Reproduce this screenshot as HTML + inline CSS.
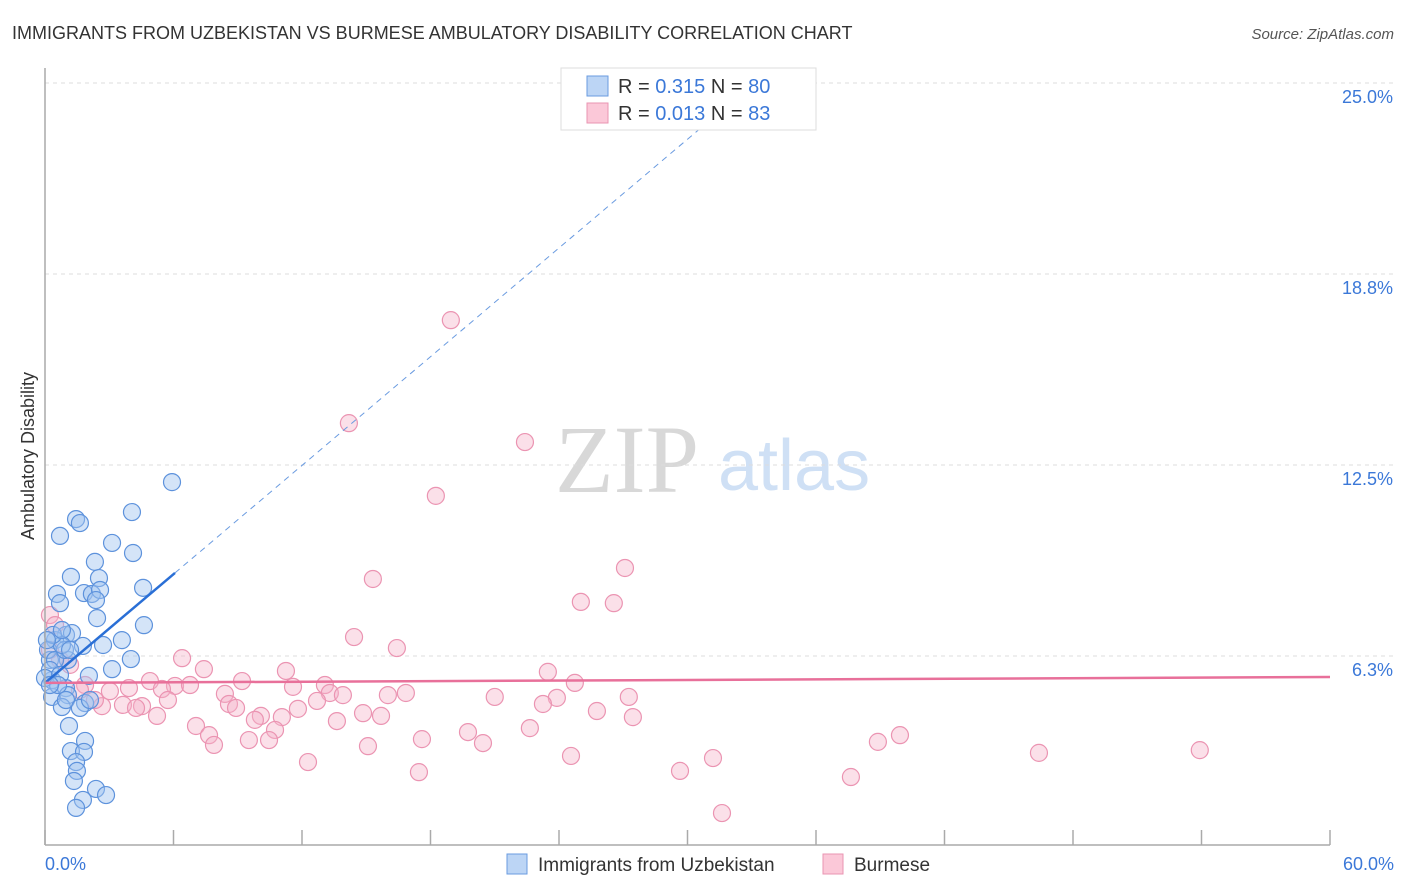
<!DOCTYPE html>
<html><head><meta charset="utf-8"><style>
body{margin:0;background:#fff;font-family:"Liberation Sans",sans-serif;}
#c{position:relative;width:1406px;height:892px;overflow:hidden}
</style></head><body>
<div id="c">
<svg id="s" width="1406" height="892">
<text x="12" y="39" font-size="18" fill="#333">IMMIGRANTS FROM UZBEKISTAN VS BURMESE AMBULATORY DISABILITY CORRELATION CHART</text>
<text x="1394" y="39" font-size="15" fill="#555" text-anchor="end" font-style="italic">Source: ZipAtlas.com</text>
<text x="555" y="492" font-size="96" fill="#d8d8d8" font-family="Liberation Serif,serif">ZIP</text>
<text x="718" y="490" font-size="72" fill="#cfe0f5">atlas</text>
<text transform="translate(34,456) rotate(-90)" font-size="18" fill="#333" text-anchor="middle">Ambulatory Disability</text>
<g id="grid"></g><g id="pts"></g><g id="lines"></g>
<line x1="45" y1="68" x2="45" y2="845" stroke="#aaa" stroke-width="1.5"/>
<line x1="45" y1="845" x2="1330" y2="845" stroke="#aaa" stroke-width="1.5"/>
<text x="45" y="870" font-size="18" fill="#3b78d8">0.0%</text>
<text x="1394" y="870" font-size="18" fill="#3b78d8" text-anchor="end">60.0%</text>
<g>
<rect x="561" y="68" width="255" height="62" fill="#fff" stroke="#ddd"/>
<rect x="587" y="76" width="21" height="20" fill="#bcd5f5" stroke="#6a9be0"/>
<rect x="587" y="103" width="21" height="20" fill="#fbc8d8" stroke="#ea94b2"/>
<text x="618" y="93" font-size="20" fill="#333">R = <tspan fill="#3b78d8">0.315</tspan>   N = <tspan fill="#3b78d8">80</tspan></text>
<text x="618" y="120" font-size="20" fill="#333">R = <tspan fill="#3b78d8">0.013</tspan>   N = <tspan fill="#3b78d8">83</tspan></text>
</g>
<g>
<rect x="507" y="854" width="20" height="20" fill="#bcd5f5" stroke="#6a9be0"/>
<text x="538" y="871" font-size="19" fill="#333">Immigrants from Uzbekistan</text>
<rect x="823" y="854" width="20" height="20" fill="#fbc8d8" stroke="#ea94b2"/>
<text x="854" y="871" font-size="19" fill="#333">Burmese</text>
</g>
</svg></div>
<script>
const yTicks=[25,18.75,12.5,6.25];
const yTickLabels=["25.0%","18.8%","12.5%","6.3%"];
const xTicks=[0,6,12,18,24,30,36,42,48,54,60];
const blueX=[5.93,1.45,1.63,4.06,0.70,3.13,4.11,2.33,1.21,2.52,4.58,0.56,1.82,2.19,2.57,2.38,0.70,4.62,2.43,3.59,2.71,1.77,0.98,1.26,0.47,4.01,3.13,2.05,1.07,0.23,0.33,0.98,0.33,1.07,1.87,0.79,1.12,1.87,1.21,1.82,1.45,1.49,1.35,2.38,2.85,1.77,1.45,0.14,0.47,0.23,0,0.7,0.61,0.23,0.93,0.79,1.17,0.37,0.09,0.79,0.98,1.63,2.1];
const blueY=[11.94,10.73,10.6,10.96,10.18,9.95,9.62,9.33,8.84,8.8,8.48,8.28,8.31,8.28,8.41,8.08,7.98,7.26,7.49,6.77,6.61,6.58,6.94,7.0,6.77,6.15,5.82,5.6,6.12,6.12,5.46,5.2,4.91,4.97,4.71,4.58,3.96,3.47,3.14,3.11,2.78,2.49,2.16,1.9,1.7,1.54,1.28,6.45,6.12,5.79,5.53,5.63,5.3,5.3,6.45,6.61,6.45,6.94,6.77,7.1,4.81,4.55,4.81];
const pinkX=[29.46,18.95,14.19,22.41,18.25,27.08,15.31,25.02,26.56,14.43,16.43,6.4,11.25,23.48,7.42,9.2,24.74,13.07,4.9,3.92,3.03,11.58,6.07,6.77,5.46,8.4,13.3,13.91,16.01,16.85,21.0,23.9,27.26,12.7,11.81,23.25,8.59,8.92,5.74,4.53,3.64,2.66,4.25,5.23,14.85,15.69,11.06,10.08,9.8,13.63,25.77,27.45,7.05,7.66,10.74,22.64,7.89,9.52,10.46,17.6,19.75,20.45,15.08,24.56,12.28,17.46,31.19,29.65,31.61,37.63,38.89,39.92,46.41,53.92,0.23,0.47,0.23,0.7,1.17,1.87,2.33,1.63];
const pinkY=[23.85,17.24,13.87,13.25,11.49,9.13,8.77,8.02,7.98,6.87,6.51,6.18,5.76,5.73,5.82,5.43,5.37,5.3,5.43,5.2,5.1,5.24,5.27,5.3,5.17,5.01,5.04,4.97,4.97,5.04,4.91,4.88,4.91,4.78,4.52,4.68,4.68,4.55,4.81,4.61,4.65,4.61,4.55,4.29,4.38,4.29,4.25,4.29,4.16,4.12,4.45,4.25,3.96,3.66,3.83,3.89,3.34,3.5,3.5,3.53,3.76,3.4,3.3,2.98,2.78,2.45,2.91,2.49,1.11,2.29,3.44,3.66,3.08,3.17,7.59,7.26,6.45,6.12,5.96,5.3,4.81,5.14];
const blueTrend=[5.37,0.593];
const pinkTrend=[5.37,0.0032];
const X=v=>45+v/60*1285, Y=v=>847-v/25*764;
const NS="http://www.w3.org/2000/svg";
function mk(p,t,a){const e=document.createElementNS(NS,t);for(const k in a)e.setAttribute(k,a[k]);p.appendChild(e);return e;}
const grid=document.getElementById('grid'),pts=document.getElementById('pts'),lines=document.getElementById('lines');
yTicks.forEach((t,i)=>{
 const l=mk(grid,'line',{x1:45,x2:1394,y1:Y(t),y2:Y(t),stroke:'#ddd','stroke-dasharray':'4,4'});
 
 
 const tx=mk(grid,'text',{x:1393,y:Y(t)+20,'font-size':18,fill:'#3b78d8','text-anchor':'end'});
 tx.textContent=yTickLabels[i];
 
 
});
xTicks.forEach(t=>{
 const l=mk(grid,'line',{x1:X(t),x2:X(t),y1:830,y2:845,stroke:'#aaa','stroke-width':1.5});
 
 
});
pinkX.forEach((v,i)=>{
 const c=mk(pts,'circle',{cx:X(v),cy:Y(pinkY[i]),r:8.5,fill:'rgba(246,178,200,0.4)',stroke:'#eb94b2','stroke-width':1.2});
 
 
});
blueX.forEach((v,i)=>{
 const c=mk(pts,'circle',{cx:X(v),cy:Y(blueY[i]),r:8.5,fill:'rgba(160,196,240,0.45)',stroke:'#5d92dc','stroke-width':1.2});
 
 
});
const bEnd=(25-blueTrend[0])/blueTrend[1];
let l=mk(lines,'line',{x1:X(6.07),y1:Y(blueTrend[0]+blueTrend[1]*6.07),x2:X(bEnd),y2:Y(25),stroke:'#6a9be0','stroke-width':1,'stroke-dasharray':'6,5'});


l=mk(lines,'line',{x1:X(0),y1:Y(blueTrend[0]),x2:X(6.07),y2:Y(blueTrend[0]+blueTrend[1]*6.07),stroke:'#2a6fd6','stroke-width':2.5});


l=mk(lines,'line',{x1:X(0),y1:Y(pinkTrend[0]),x2:X(60),y2:Y(pinkTrend[0]+pinkTrend[1]*60),stroke:'#e8709a','stroke-width':2.5});


</script>
</body></html>
